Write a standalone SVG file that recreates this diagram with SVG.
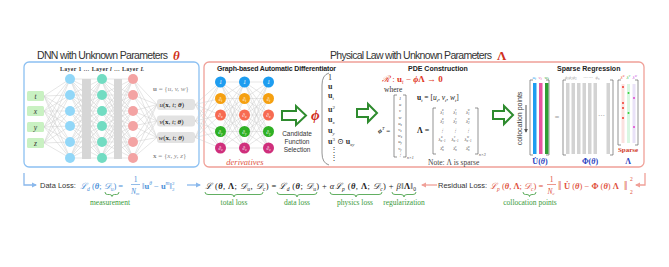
<svg xmlns="http://www.w3.org/2000/svg" xmlns:xlink="http://www.w3.org/1999/xlink" width="669" height="267" viewBox="0 0 669 267">
<style>
.s{font-family:"Liberation Sans",Arial,sans-serif}
.m{font-family:"Liberation Serif","DejaVu Serif",serif}
.i{font-style:italic}
.b{font-weight:bold}
.edge{stroke:#cdcdcd;stroke-width:0.5;fill:none}
.garrow{fill:#fff;stroke:#2e8b2e;stroke-width:2}
.brk{fill:none;stroke:#666;stroke-width:0.7}
.lab{font-family:"Liberation Serif",serif;font-size:7.5px;fill:#3a9a3a;text-anchor:middle}
.brace{fill:none;stroke:#3a9a3a;stroke-width:0.8}
.ent{font-family:"Liberation Serif",serif;font-style:italic;font-size:4.5px;fill:#444}
</style>
<defs>
<marker id="ab" viewBox="0 0 10 10" refX="8" refY="5" markerWidth="4" markerHeight="4" orient="auto"><path d="M0 0L10 5L0 10z" fill="#8ab8ec"/></marker>
<marker id="ar" viewBox="0 0 10 10" refX="8" refY="5" markerWidth="4" markerHeight="4" orient="auto"><path d="M0 0L10 5L0 10z" fill="#f0a098"/></marker>
<marker id="ag" viewBox="0 0 10 10" refX="8" refY="5" markerWidth="4" markerHeight="4" orient="auto"><path d="M0 0L10 5L0 10z" fill="#555"/></marker>
</defs>
<rect width="669" height="267" fill="#fff"/>

<!-- titles -->
<text class="s" x="37" y="59" font-size="10.5" fill="#333" textLength="131">DNN with Unknown Parameters</text>
<text class="m i b" x="173" y="59.5" fill="#d03020" font-size="13">θ</text>
<text class="s" x="330" y="59" font-size="10.5" fill="#333" textLength="162">Physical Law with Unknown Parameters</text>
<text class="m b" x="497" y="59.5" fill="#d03020" font-size="13">Λ</text>

<!-- frames -->
<rect id="dnn-frame" x="24" y="62" width="175" height="105" rx="5" fill="none" stroke="#8cc0f2" stroke-width="1.3"/>
<rect id="law-frame" x="204" y="62" width="440" height="105" rx="5" fill="none" stroke="#f0a098" stroke-width="1.3"/>

<!-- connectors -->
<g id="connectors">
<path class="edge" d="M44 96L70 79M44 96L70 95M44 96L70 111M44 96L70 126M44 96L70 142M44 96L70 158M44 111L70 79M44 111L70 95M44 111L70 111M44 111L70 126M44 111L70 142M44 111L70 158M44 127L70 79M44 127L70 95M44 127L70 111M44 127L70 126M44 127L70 142M44 127L70 158M44 143L70 79M44 143L70 95M44 143L70 111M44 143L70 126M44 143L70 142M44 143L70 158"/>
<path id="fc6" class="edge" d="M70 79L102 79M70 79L102 95M70 79L102 111M70 79L102 126M70 79L102 142M70 79L102 158M70 95L102 79M70 95L102 95M70 95L102 111M70 95L102 126M70 95L102 142M70 95L102 158M70 111L102 79M70 111L102 95M70 111L102 111M70 111L102 126M70 111L102 142M70 111L102 158M70 126L102 79M70 126L102 95M70 126L102 111M70 126L102 126M70 126L102 142M70 126L102 158M70 142L102 79M70 142L102 95M70 142L102 111M70 142L102 126M70 142L102 142M70 142L102 158M70 158L102 79M70 158L102 95M70 158L102 111M70 158L102 126M70 158L102 142M70 158L102 158"/>
<use xlink:href="#fc6" href="#fc6" transform="translate(31,0)"/>
<path class="edge" d="M133 79L157 104.5M133 79L157 121M133 79L157 137.5M133 95L157 104.5M133 95L157 121M133 95L157 137.5M133 111L157 104.5M133 111L157 121M133 111L157 137.5M133 126L157 104.5M133 126L157 121M133 126L157 137.5M133 142L157 104.5M133 142L157 121M133 142L157 137.5M133 158L157 104.5M133 158L157 121M133 158L157 137.5"/>
<path class="edge" d="M195 104.5L220.5 82M195 104.5L220.5 98.5M195 104.5L220.5 115M195 104.5L220.5 131.5M195 104.5L220.5 148M195 121L220.5 82M195 121L220.5 98.5M195 121L220.5 115M195 121L220.5 131.5M195 121L220.5 148M195 137.5L220.5 82M195 137.5L220.5 98.5M195 137.5L220.5 115M195 137.5L220.5 131.5M195 137.5L220.5 148"/>
<path id="fc5" class="edge" d="M220.5 82L244.5 82M220.5 82L244.5 98.5M220.5 82L244.5 115M220.5 82L244.5 131.5M220.5 82L244.5 148M220.5 98.5L244.5 82M220.5 98.5L244.5 98.5M220.5 98.5L244.5 115M220.5 98.5L244.5 131.5M220.5 98.5L244.5 148M220.5 115L244.5 82M220.5 115L244.5 98.5M220.5 115L244.5 115M220.5 115L244.5 131.5M220.5 115L244.5 148M220.5 131.5L244.5 82M220.5 131.5L244.5 98.5M220.5 131.5L244.5 115M220.5 131.5L244.5 131.5M220.5 131.5L244.5 148M220.5 148L244.5 82M220.5 148L244.5 98.5M220.5 148L244.5 115M220.5 148L244.5 131.5M220.5 148L244.5 148"/>
<use xlink:href="#fc5" href="#fc5" transform="translate(24,0)"/>
<!-- loss arrows -->
<path d="M24 173V185H36" fill="none" stroke="#8ab8ec" stroke-width="1.3" marker-end="url(#ab)"/>
<path d="M187 185H200" fill="none" stroke="#8ab8ec" stroke-width="1.3" marker-end="url(#ab)"/>
<path d="M437 185H422" fill="none" stroke="#f0a098" stroke-width="1.3" marker-end="url(#ar)"/>
<path d="M645 173V185H636" fill="none" stroke="#f0a098" stroke-width="1.3" marker-end="url(#ar)"/>
<path d="M526 105V132" fill="none" stroke="#555" stroke-width="1" marker-end="url(#ag)"/>
<polygon class="garrow" points="282,111 296,111 296,106 306,115.5 296,125 296,120 282,120"/>
<polygon class="garrow" points="357,109 368,109 368,104 377,113 368,122 368,117 357,117"/>
<polygon class="garrow" points="493,111 504,111 504,106 513,115 504,124 504,119 493,119"/>
</g>

<!-- DNN -->
<g id="dnn">
<text class="m b" x="102" y="70.5" font-size="5.8" fill="#333" text-anchor="middle" textLength="84">Layer 1 … Layer <tspan class="i">l</tspan> … Layer <tspan class="i">L</tspan></text>
<g id="inputs" class="m i" font-size="7.5" fill="#333" text-anchor="middle">
<rect x="27" y="91" width="17" height="10" rx="1.5" fill="#c9f1c2"/><text x="35.5" y="98.5">t</text>
<rect x="27" y="106" width="17" height="10" rx="1.5" fill="#c9f1c2"/><text x="35.5" y="113.5">x</text>
<rect x="27" y="122" width="17" height="10" rx="1.5" fill="#c9f1c2"/><text x="35.5" y="129.5">y</text>
<rect x="27" y="138" width="17" height="10" rx="1.5" fill="#c9f1c2"/><text x="35.5" y="145.5">z</text>
</g>
<g id="layer1" fill="#92d7f8">
<circle cx="70" cy="79" r="5"/><circle cx="70" cy="95" r="5"/><circle cx="70" cy="111" r="5"/><circle cx="70" cy="126" r="5"/><circle cx="70" cy="142" r="5"/><circle cx="70" cy="158" r="5"/>
</g>
<rect x="82" y="79" width="9" height="80" fill="#d6d6d6"/>
<g id="layerl" fill="#72dcc2">
<circle cx="102" cy="79" r="5"/><circle cx="102" cy="95" r="5"/><circle cx="102" cy="111" r="5"/><circle cx="102" cy="126" r="5"/><circle cx="102" cy="142" r="5"/><circle cx="102" cy="158" r="5"/>
</g>
<rect x="114" y="79" width="8" height="80" fill="#d6d6d6"/>
<g id="layerL" fill="#f3a3a3">
<circle cx="133" cy="79" r="5"/><circle cx="133" cy="95" r="5"/><circle cx="133" cy="111" r="5"/><circle cx="133" cy="126" r="5"/><circle cx="133" cy="142" r="5"/><circle cx="133" cy="158" r="5"/>
</g>
<g id="outputs" class="m" font-size="7" fill="#222">
<text x="153" y="90.5" fill="#888"><tspan class="b">u</tspan> = {<tspan class="i">u, v, w</tspan>}</text>
<rect x="157" y="99" width="38" height="11" rx="3" fill="#e2e2e2"/>
<text x="159.5" y="107"><tspan class="i">u</tspan>(<tspan class="b">x</tspan>, <tspan class="i">t</tspan>; <tspan class="b i">θ</tspan>)</text>
<rect x="157" y="115.5" width="38" height="11" rx="3" fill="#e2e2e2"/>
<text x="159.5" y="123.5"><tspan class="i">v</tspan>(<tspan class="b">x</tspan>, <tspan class="i">t</tspan>; <tspan class="b i">θ</tspan>)</text>
<rect x="157" y="132" width="38" height="11" rx="3" fill="#e2e2e2"/>
<text x="158.5" y="140"><tspan class="i">w</tspan>(<tspan class="b">x</tspan>, <tspan class="i">t</tspan>; <tspan class="b i">θ</tspan>)</text>
<text x="153" y="157.5" fill="#888"><tspan class="b">x</tspan> = {<tspan class="i">x, y, z</tspan>}</text>
</g>
</g>

<!-- Automatic differentiator -->
<g id="autodiff">
<text class="s b" x="217" y="71" font-size="7" fill="#222" textLength="119">Graph-based Automatic Differentiator</text>
<g id="deriv-col1">
<circle cx="220.5" cy="82" r="5.5" fill="#1e9df0"/><circle cx="220.5" cy="98.5" r="5.5" fill="#f5a011"/><circle cx="220.5" cy="115" r="5.5" fill="#f76b52"/><circle cx="220.5" cy="131.5" r="5.5" fill="#2fb024"/><circle cx="220.5" cy="148" r="5.5" fill="#cf2f7c"/>
</g>
<g id="deriv-col2">
<circle cx="244.5" cy="82" r="5.5" fill="#1e9df0"/><circle cx="244.5" cy="98.5" r="5.5" fill="#f5a011"/><circle cx="244.5" cy="115" r="5.5" fill="#f76b52"/><circle cx="244.5" cy="131.5" r="5.5" fill="#2fb024"/><circle cx="244.5" cy="148" r="5.5" fill="#cf2f7c"/>
</g>
<g id="deriv-col3">
<circle cx="268.5" cy="82" r="5.5" fill="#1e9df0"/><circle cx="268.5" cy="98.5" r="5.5" fill="#f5a011"/><circle cx="268.5" cy="115" r="5.5" fill="#f76b52"/><circle cx="268.5" cy="131.5" r="5.5" fill="#2fb024"/><circle cx="268.5" cy="148" r="5.5" fill="#cf2f7c"/>
</g>
<g class="m i" font-size="5.5" fill="#fff" text-anchor="middle">
<text x="220.5" y="84">1</text><text x="244.5" y="84">1</text><text x="268.5" y="84">1</text>
<text x="220.5" y="100.5">∂<tspan font-size="3.5" dy="1">t</tspan></text><text x="244.5" y="100.5">∂<tspan font-size="3.5" dy="1">t</tspan></text><text x="268.5" y="100.5">∂<tspan font-size="3.5" dy="1">t</tspan></text>
<text x="220.5" y="117">∂<tspan font-size="3.5" dy="1">x</tspan></text><text x="244.5" y="117">∂<tspan font-size="3.5" dy="1">x</tspan></text><text x="268.5" y="117">∂<tspan font-size="3.5" dy="1">x</tspan></text>
<text x="220.5" y="133.5">∂<tspan font-size="3.5" dy="1">y</tspan></text><text x="244.5" y="133.5">∂<tspan font-size="3.5" dy="1">y</tspan></text><text x="268.5" y="133.5">∂<tspan font-size="3.5" dy="1">y</tspan></text>
<text x="220.5" y="150">∂<tspan font-size="3.5" dy="1">z</tspan></text><text x="244.5" y="150">∂<tspan font-size="3.5" dy="1">z</tspan></text><text x="268.5" y="150">∂<tspan font-size="3.5" dy="1">z</tspan></text>
</g>
<text class="m i" x="245" y="165" font-size="8.5" fill="#e0563f" text-anchor="middle">derivatives</text>
</g>

<!-- Candidate selection -->
<g id="candidates">
<text class="m i b" x="311" y="120" font-size="15" fill="#d02a1a">ϕ</text>
<g class="s" font-size="6.5" fill="#333" text-anchor="middle">
<text x="297" y="135.5">Candidate</text><text x="297" y="143.5">Function</text><text x="297" y="151.5">Selection</text>
</g>
<path d="M329 73Q322 75 322 85V153Q322 163 329 165" class="brk"/>
<g class="m" font-size="8" fill="#333">
<text x="328" y="80">1</text>
<text x="328" y="89" class="b">u</text>
<text x="328" y="98"><tspan class="b">u</tspan><tspan font-size="5" dy="2" class="i">t</tspan></text>
<text x="328" y="112"><tspan class="b">u</tspan><tspan font-size="5" dy="-3.5">2</tspan></text>
<text x="328" y="122"><tspan class="b">u</tspan><tspan font-size="5" dy="2" class="i">x</tspan></text>
<text x="328" y="133"><tspan class="b">u</tspan><tspan font-size="5" dy="2" class="i">y</tspan></text>
<text x="328" y="144"><tspan class="b">u</tspan><tspan font-size="5" dy="-3.5">3</tspan><tspan dy="3.5"> ⊙ </tspan><tspan class="b">u</tspan><tspan font-size="5" dy="2" class="i">xy</tspan></text>
<text x="330" y="152">⋮</text>
<text x="330" y="160">⋮</text>
</g>
</g>

<!-- PDE construction -->
<g id="pde">
<text class="s b" x="408" y="71" font-size="7" fill="#222">PDE Construction</text>
<text class="m" x="382" y="82" font-size="9" fill="#e03522"><tspan class="i">ℛ</tspan> : <tspan class="b">u</tspan><tspan font-size="5.5" dy="2" class="i">t</tspan><tspan dy="-2"> − </tspan><tspan class="b i">ϕ</tspan><tspan class="b">Λ → 0</tspan></text>
<text class="m" x="384" y="91.5" font-size="7.5" fill="#333">where</text>
<text class="m" x="378" y="133" font-size="7" fill="#222"><tspan class="b i">ϕ</tspan><tspan font-size="4.5" dy="-3" class="i">T</tspan><tspan dy="3"> =</tspan></text>
<path class="brk" d="M397 95H394V157H397M403 95H406V157H403"/>
<g class="ent" text-anchor="middle">
<text x="400" y="100">1</text><text x="400" y="106.2">u</text><text x="400" y="112.4">v</text><text x="400" y="118.6">w</text>
<text x="400" y="124.8">u<tspan font-size="3" dy="1">x</tspan></text><text x="400" y="131">v<tspan font-size="3" dy="1">x</tspan></text><text x="400" y="137.2">w<tspan font-size="3" dy="1">x</tspan></text>
<text x="400" y="143.4">u<tspan font-size="3" dy="1">y</tspan></text><text x="400" y="149.6">v<tspan font-size="3" dy="1">y</tspan></text><text x="400" y="155.5">⋮</text>
</g>
<text class="m i" x="407" y="159" font-size="4" fill="#444">n×1</text>
<text class="m" x="417" y="100" font-size="7.5" fill="#222"><tspan class="b">u</tspan><tspan font-size="4.5" dy="1.5" class="i">t</tspan><tspan dy="-1.5"> = [</tspan><tspan class="i">u</tspan><tspan font-size="4.5" dy="1.5" class="i">t</tspan><tspan dy="-1.5">, </tspan><tspan class="i">v</tspan><tspan font-size="4.5" dy="1.5" class="i">t</tspan><tspan dy="-1.5">, </tspan><tspan class="i">w</tspan><tspan font-size="4.5" dy="1.5" class="i">t</tspan><tspan dy="-1.5">]</tspan></text>
<text class="m b" x="417" y="133" font-size="8" fill="#222">Λ =</text>
<path class="brk" d="M436 108H433V154H436M475 108H478V154H475"/>
<g class="ent" text-anchor="middle">
<text x="442" y="113.5">λ<tspan font-size="3" dy="1.2">1</tspan><tspan font-size="3" dx="-1.7" dy="-3.4">u</tspan></text>
<text x="455" y="113.5">λ<tspan font-size="3" dy="1.2">1</tspan><tspan font-size="3" dx="-1.7" dy="-3.4">v</tspan></text>
<text x="468" y="113.5">λ<tspan font-size="3" dy="1.2">1</tspan><tspan font-size="3" dx="-1.7" dy="-3.4">w</tspan></text>
<text x="442" y="122.5">λ<tspan font-size="3" dy="1.2">2</tspan><tspan font-size="3" dx="-1.7" dy="-3.4">u</tspan></text>
<text x="455" y="122.5">λ<tspan font-size="3" dy="1.2">2</tspan><tspan font-size="3" dx="-1.7" dy="-3.4">v</tspan></text>
<text x="468" y="122.5">λ<tspan font-size="3" dy="1.2">2</tspan><tspan font-size="3" dx="-1.7" dy="-3.4">w</tspan></text>
<text x="442" y="131.5">⋮</text><text x="455" y="131.5">⋮</text><text x="468" y="131.5">⋮</text>
<text x="442" y="140.5">λ<tspan font-size="3" dy="1.2">n−1</tspan><tspan font-size="3" dx="-4.5" dy="-3.4">u</tspan></text>
<text x="455" y="140.5">λ<tspan font-size="3" dy="1.2">n−1</tspan><tspan font-size="3" dx="-4.5" dy="-3.4">v</tspan></text>
<text x="468" y="140.5">λ<tspan font-size="3" dy="1.2">n−1</tspan><tspan font-size="3" dx="-4.5" dy="-3.4">w</tspan></text>
<text x="442" y="150">λ<tspan font-size="3" dy="1.2">n</tspan><tspan font-size="3" dx="-1.7" dy="-3.4">u</tspan></text>
<text x="455" y="150">λ<tspan font-size="3" dy="1.2">n</tspan><tspan font-size="3" dx="-1.7" dy="-3.4">v</tspan></text>
<text x="468" y="150">λ<tspan font-size="3" dy="1.2">n</tspan><tspan font-size="3" dx="-1.7" dy="-3.4">w</tspan></text>
</g>
<text class="m i" x="479" y="156" font-size="4" fill="#444">n×3</text>
<text class="m" x="428" y="164.5" font-size="7.5" fill="#444">Note: Λ is sparse</text>
</g>

<!-- Sparse regression -->
<g id="sparse">
<text class="s b" x="557" y="70.5" font-size="7" fill="#222">Sparse Regression</text>
<text class="s" x="0" y="0" font-size="7" fill="#333" text-anchor="middle" transform="translate(521.5,118.5) rotate(-90)">collocation points</text>
<path class="brk" d="M533 80H530V155H533M546 80H549V155H546"/>
<rect x="533" y="83" width="3.5" height="71" fill="#1e9df0"/>
<rect x="539" y="83" width="3.5" height="71" fill="#e9559f"/>
<rect x="545" y="83" width="3.5" height="71" fill="#2f9f34"/>
<g class="m i" font-size="5">
<text x="532.5" y="78.5" fill="#1e9df0">u<tspan font-size="3.5" dy="1">t</tspan></text>
<text x="538.5" y="78.5" fill="#e9559f">v<tspan font-size="3.5" dy="1">t</tspan></text>
<text x="544.5" y="78.5" fill="#2f9f34">w<tspan font-size="3.5" dy="1">t</tspan></text>
</g>
<text class="m b" x="540" y="164" font-size="8" fill="#2a3fc0" text-anchor="middle">U̇(<tspan class="i">θ</tspan>)</text>
<text class="m" x="557" y="120" font-size="8" fill="#999" text-anchor="middle">=</text>
<path class="brk" d="M566 80H563V155H566M610 80H613V155H610"/>
<g fill="#d3d3d3">
<rect x="566" y="83" width="3.5" height="71"/><rect x="571.5" y="83" width="3.5" height="71"/><rect x="577" y="83" width="3.5" height="71"/><rect x="582.5" y="83" width="3.5" height="71"/><rect x="588" y="83" width="3.5" height="71"/><rect x="593.5" y="83" width="3.5" height="71"/><rect x="606.5" y="83" width="3.5" height="71"/>
</g>
<text class="m" x="601.5" y="118" font-size="7" fill="#aaa" text-anchor="middle">⋯</text>
<text class="m i" x="565" y="78.5" font-size="4.5" fill="#999">ϕ<tspan font-size="3" dy="1">1</tspan><tspan dy="-1">ϕ</tspan><tspan font-size="3" dy="1">2</tspan><tspan dy="-1">ϕ</tspan><tspan font-size="3" dy="1">3</tspan><tspan dy="-1" dx="6">⋯⋯</tspan><tspan dx="3">ϕ</tspan><tspan font-size="3" dy="1">n</tspan></text>
<text class="m b" x="590" y="164" font-size="8" fill="#2a3fc0" text-anchor="middle">Φ(<tspan class="i">θ</tspan>)</text>
<path class="brk" d="M621 80H618V145H621M635 80H638V145H635"/>
<rect x="621.5" y="84" width="3" height="59" fill="#fbe1df"/>
<rect x="627" y="84" width="3" height="59" fill="#d9f7e2"/>
<rect x="632.5" y="84" width="3" height="59" fill="#e9e2f8"/>
<g fill="#f03a2e"><circle cx="623" cy="87" r="1"/><circle cx="623" cy="103" r="1"/><circle cx="623" cy="108" r="1"/><circle cx="623" cy="118" r="1"/></g>
<g fill="#35d03a"><circle cx="628.5" cy="93" r="1"/><circle cx="628.5" cy="113" r="1"/></g>
<g fill="#e045d0"><circle cx="634" cy="98" r="1"/><circle cx="634" cy="127" r="1"/></g>
<g class="m i" font-size="5">
<text x="620.5" y="78.5" fill="#f03a2e">λ<tspan font-size="3.5" dy="-2">u</tspan></text>
<text x="626.5" y="78.5" fill="#35c03a">λ<tspan font-size="3.5" dy="-2">v</tspan></text>
<text x="632.5" y="78.5" fill="#c545e0">λ<tspan font-size="3.5" dy="-2">w</tspan></text>
</g>
<text class="m b" x="628" y="151.5" font-size="7" fill="#d03a2a" text-anchor="middle">Sparse</text>
<text class="m b" x="628" y="164" font-size="8" fill="#2a3fc0" text-anchor="middle">Λ</text>
</g>

<!-- Loss row -->
<g id="losses">
<text class="s" x="40" y="188" font-size="7.5" fill="#333">Data Loss:</text>
<g class="m" font-size="8.5" fill="#4a8fd8">
<text x="80" y="188.5"><tspan class="i">ℒ</tspan><tspan font-size="5.5" dy="2" class="i">d</tspan><tspan dy="-2"> (</tspan><tspan class="b i">θ</tspan>; <tspan class="i">𝒟</tspan><tspan font-size="5.5" dy="2" class="i">u</tspan><tspan dy="-2">) =</tspan></text>
<text x="135.5" y="182" text-anchor="middle" font-size="7.5">1</text>
<path d="M131 184.5H140" stroke="#4a8fd8" stroke-width="0.6"/>
<text x="131" y="193.5" font-size="7.5" class="i">N<tspan font-size="4.5" dy="1.5">m</tspan></text>
<text x="142" y="188.5">‖<tspan class="b">u</tspan><tspan font-size="5.5" dy="-3.5" class="i">θ</tspan><tspan dy="3.5"> − </tspan><tspan class="b">u</tspan><tspan font-size="5.5" dy="-3.5" class="i">m</tspan><tspan dy="3.5">‖</tspan><tspan font-size="5" dy="-3.5">2</tspan><tspan font-size="5" dx="-2.5" dy="6">2</tspan></text>
</g>
<text class="m" x="205" y="188.5" font-size="8.5" fill="#222" textLength="211"><tspan class="i">ℒ</tspan> (<tspan class="b i">θ</tspan>, <tspan class="b">Λ</tspan>; <tspan class="i">𝒟</tspan><tspan font-size="5.5" dy="2" class="i">u</tspan><tspan dy="-2">, </tspan><tspan class="i">𝒟</tspan><tspan font-size="5.5" dy="2" class="i">c</tspan><tspan dy="-2">) = </tspan><tspan class="i">ℒ</tspan><tspan font-size="5.5" dy="2" class="i">d</tspan><tspan dy="-2"> (</tspan><tspan class="b i">θ</tspan>; <tspan class="i">𝒟</tspan><tspan font-size="5.5" dy="2" class="i">u</tspan><tspan dy="-2">) + </tspan><tspan class="i">αℒ</tspan><tspan font-size="5.5" dy="2" class="i">p</tspan><tspan dy="-2"> (</tspan><tspan class="b i">θ</tspan>, <tspan class="b">Λ</tspan>; <tspan class="i">𝒟</tspan><tspan font-size="5.5" dy="2" class="i">c</tspan><tspan dy="-2">) + </tspan><tspan class="i">β</tspan>‖<tspan class="b">Λ</tspan>‖<tspan font-size="5.5" dy="2">0</tspan></text>
<text class="s" x="438" y="188" font-size="7.5" fill="#333">Residual Loss:</text>
<g class="m" font-size="8.5" fill="#e0503c">
<text x="490" y="188.5"><tspan class="i">ℒ</tspan><tspan font-size="5.5" dy="2" class="i">p</tspan><tspan dy="-2"> (</tspan><tspan class="b i">θ</tspan>, <tspan class="b">Λ</tspan>; <tspan class="i">𝒟</tspan><tspan font-size="5.5" dy="2" class="i">c</tspan><tspan dy="-2">) =</tspan></text>
<text x="551.5" y="182" text-anchor="middle" font-size="7.5">1</text>
<path d="M547 184.5H556" stroke="#e0503c" stroke-width="0.6"/>
<text x="547.5" y="193.5" font-size="7.5" class="i">N<tspan font-size="4.5" dy="1.5">c</tspan></text>
<text x="558" y="190" font-size="12">‖</text>
<text x="564" y="188.5"><tspan class="b">U̇</tspan> (<tspan class="b i">θ</tspan>) − <tspan class="b">Φ</tspan> (<tspan class="b i">θ</tspan>) <tspan class="b">Λ</tspan></text>
<text x="624" y="190" font-size="12">‖</text>
<text x="630" y="181" font-size="5.5">2</text>
<text x="630" y="193.5" font-size="5.5">2</text>
</g>
<path class="brace" d="M105 192q0 2.5 2.5 2.5h2q2.5 0 2.5 2q0-2 2.5-2h2q2.5 0 2.5-2.5"/>
<text class="lab" x="110" y="205">measurement</text>
<path class="brace" d="M205 192q0 2.5 3 2.5h23q3 0 3 2.5q0-2.5 3-2.5h23q3 0 3-2.5"/>
<text class="lab" x="234" y="205">total loss</text>
<path class="brace" d="M277 192q0 2.5 3 2.5h14q3 0 3 2.5q0-2.5 3-2.5h14q3 0 3-2.5"/>
<text class="lab" x="297" y="205">data loss</text>
<path class="brace" d="M330 192q0 2.5 3 2.5h20q3 0 3 2.5q0-2.5 3-2.5h20q3 0 3-2.5"/>
<text class="lab" x="355" y="205">physics loss</text>
<path class="brace" d="M392 192q0 2.5 3 2.5h6q3 0 3 2.5q0-2.5 3-2.5h6q3 0 3-2.5"/>
<text class="lab" x="404" y="205">regularization</text>
<path class="brace" d="M523 192q0 2.5 2.5 2.5h1.5q2.5 0 2.5 2q0-2 2.5-2h1.5q2.5 0 2.5-2.5"/>
<text class="lab" x="530" y="205">collocation points</text>
</g>
</svg>
